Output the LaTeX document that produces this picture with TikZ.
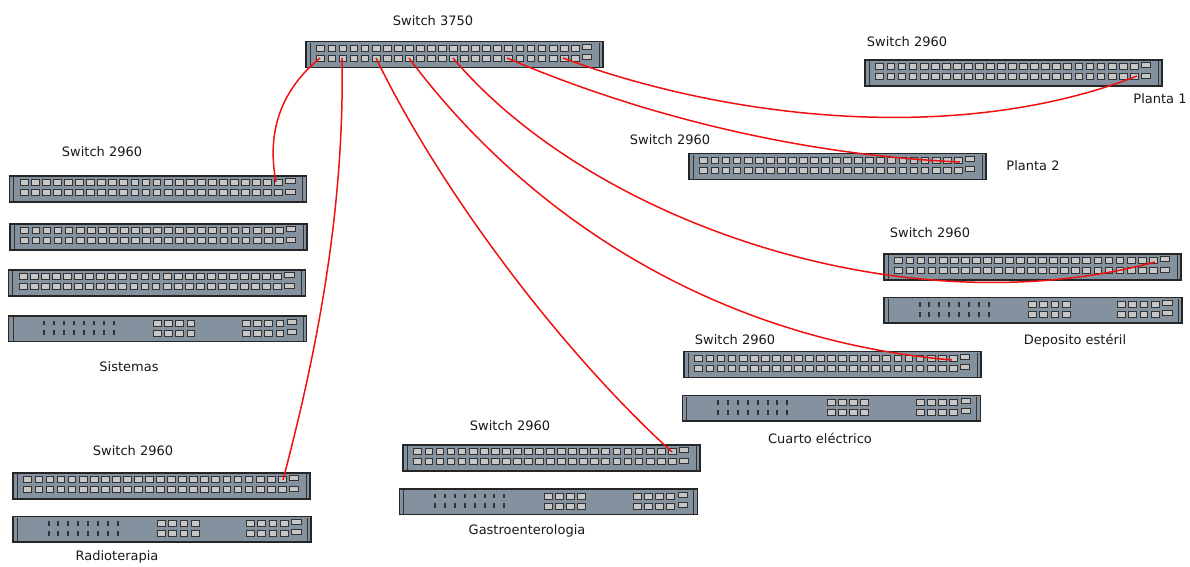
\documentclass[tikz,border=0pt]{standalone}
\usepackage{fontspec}
\setmainfont{DejaVu Sans}
\tikzset{
  x=1pt,y=-1pt,
  chassis/.style={draw=black!85,line width=1.3pt,fill=rackgray},
  ear/.style={draw=black!80,line width=.6pt},
  port/.style={draw=black!80,line width=.7pt,fill=black!22},
  led/.style={fill=black!80,draw=none},
  lbl/.style={font=\fontsize{13}{15}\selectfont,inner sep=0pt,text=black!90},
  link/.style={draw=linkred,line width=1.5pt},
  pics/fullswitch/.style={code={
    \path[chassis] (0,0) rectangle (297,26);
    \path[ear] (4,1) -- (4,25) (293,1) -- (293,25);
    \foreach \i in {0,...,23}{
      \pgfmathsetmacro{\px}{14.7+\i*11.06}
      \path[port] (\px-3.9,3.4) rectangle (\px+3.9,9.4);
      \path[port] (\px-3.9,13.4) rectangle (\px+3.9,19.4);
    }
    \path[port] (276,2.5) rectangle (285.5,7.5);
    \path[port] (276,13) rectangle (285.5,18);
  }},
  pics/blankswitch/.style={code={
    \path[chassis] (0,0) rectangle (298,25.5);
    \path[ear] (4,1) -- (4,24.5) (294,1) -- (294,24.5);
    \foreach \i in {0,...,7}{
      \pgfmathsetmacro{\px}{35.5+\i*9.9}
      \path[led] (\px-1,4.6) rectangle (\px+1,9.4);
      \path[led] (\px-1,14.2) rectangle (\px+1,19);
    }
    \foreach \i in {0,...,3}{
      \pgfmathsetmacro{\px}{148.5+\i*11.2}
      \path[port] (\px-3.9,4) rectangle (\px+3.9,10);
      \path[port] (\px-3.9,14) rectangle (\px+3.9,20);
      \pgfmathsetmacro{\qx}{237.5+\i*11.2}
      \path[port] (\qx-3.9,4) rectangle (\qx+3.9,10);
      \path[port] (\qx-3.9,14) rectangle (\qx+3.9,20);
    }
    \path[port] (278.5,3) rectangle (288,8);
    \path[port] (278.5,13) rectangle (288,18);
  }}
}
\definecolor{rackgray}{HTML}{84929F}
\definecolor{linkred}{HTML}{F01010}
\begin{document}
\begin{tikzpicture}
\useasboundingbox (0,0) rectangle (1190,566);
% switches
\pic at (306,41.7) {fullswitch};
\pic at (865,60) {fullswitch};
\pic at (689,153.5) {fullswitch};
\pic at (884,254) {fullswitch};
\pic at (684,351.5) {fullswitch};
\pic at (403,445) {fullswitch};
\pic at (13,473) {fullswitch};
\pic at (9.5,176) {fullswitch};
\pic at (10,224) {fullswitch};
\pic at (8.5,270) {fullswitch};
\pic at (8.8,316) {blankswitch};
\pic at (884,297.5) {blankswitch};
\pic at (682.5,395.5) {blankswitch};
\pic at (399.5,489) {blankswitch};
\pic at (13,516.5) {blankswitch};
% labels
\node[lbl] (l3750) at (433,21) {Switch 3750};
\node[lbl] (lp1) at (907,42) {Switch 2960};
\node[lbl] (tp1) at (1160,99) {Planta 1};
\node[lbl] (lp2) at (670,140) {Switch 2960};
\node[lbl] (tp2) at (1033,166) {Planta 2};
\node[lbl] (ld) at (930,233) {Switch 2960};
\node[lbl] (td) at (1075,341) {Deposito estéril};
\node[lbl] (lc) at (735,340) {Switch 2960};
\node[lbl] (tc) at (820,438) {Cuarto eléctrico};
\node[lbl] (lg) at (510,426) {Switch 2960};
\node[lbl] (tg) at (527,531) {Gastroenterologia};
\node[lbl] (lr) at (133,451) {Switch 2960};
\node[lbl] (tr) at (117,557) {Radioterapia};
\node[lbl] (ls) at (102,152) {Switch 2960};
\node[lbl] (ts) at (129,367) {Sistemas};
% connector ends
\coordinate (a0) at (320,58); \coordinate (a1) at (276,182);
\coordinate (b0) at (342,58); \coordinate (b1) at (283,480);
\coordinate (c0) at (376,58); \coordinate (c1) at (672,452);
\coordinate (d0) at (409,58); \coordinate (d1) at (952,360);
\coordinate (e0) at (453,58); \coordinate (e1) at (1155,262);
\coordinate (f0) at (507,58); \coordinate (f1) at (960,162);
\coordinate (g0) at (563,58); \coordinate (g1) at (1137,76);
\draw[link] (a0) .. controls (275,95) and (268,140) .. (a1);
\draw[link] (b0) .. controls (345,220) and (312,370) .. (b1);
\draw[link] (c0) .. controls (440,190) and (560,350) .. (c1);
\draw[link] (d0) .. controls (530,220) and (720,340) .. (d1);
\draw[link] (e0) .. controls (590,220) and (900,330) .. (e1);
\draw[link] (f0) .. controls (640,115) and (800,155) .. (f1);
\draw[link] (g0) .. controls (730,120) and (960,145) .. (g1);
\end{tikzpicture}
\end{document}
